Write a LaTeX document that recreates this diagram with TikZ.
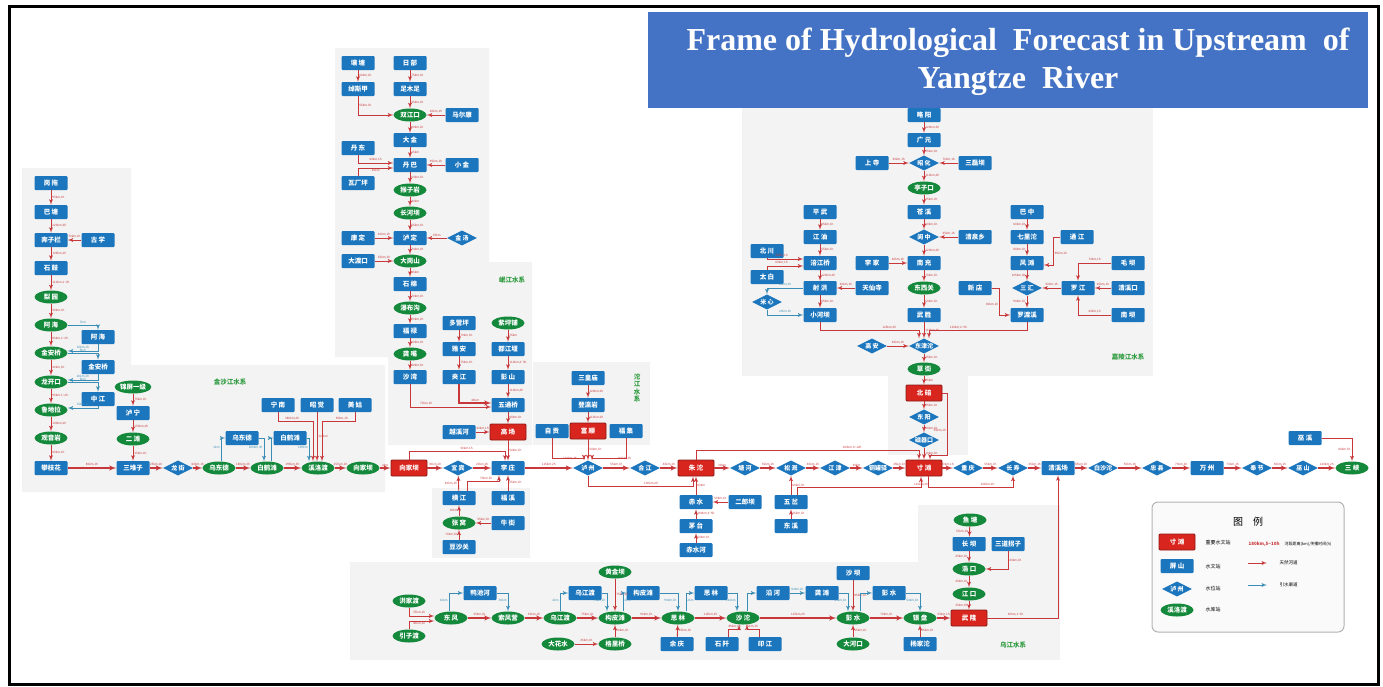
\documentclass[tikz,border=0pt]{standalone}
\usepackage{fontspec}
\usetikzlibrary{arrows,shapes.geometric}
\newfontfamily\cjk{Noto Sans CJK SC}
\newfontfamily\ttl{Liberation Serif}
\newcommand{\tld}{\textasciitilde}
\definecolor{stblue}{HTML}{1C76BD}
\definecolor{kred}{HTML}{D8261F}
\definecolor{resgreen}{HTML}{14893B}
\definecolor{rivr}{HTML}{C8373A}
\definecolor{divr}{HTML}{3A8DB5}
\definecolor{ttlblue}{HTML}{4472C4}
\definecolor{panel}{HTML}{F3F3F3}
\definecolor{grplbl}{HTML}{2E9B3E}

\begin{document}
\begin{tikzpicture}[x=1pt,y=-1pt]
	\tikzset{hsta/.style = {rectangle,fill=stblue,text=white,rounded corners=1pt,
			minimum width=33pt,minimum height=14pt,inner sep=0pt,
			font=\cjk\bfseries\fontsize{6.5}{7}\selectfont}}
	\tikzset{ksta/.style = {hsta,fill=kred,draw=kred!65!black,line width=0.8pt,
			minimum width=36pt,minimum height=16pt}}
	\tikzset{wsta/.style = {diamond,aspect=2,fill=stblue,text=white,
			minimum width=30pt,minimum height=15pt,inner sep=0pt,
			font=\cjk\bfseries\fontsize{6}{6.5}\selectfont}}
	\tikzset{res/.style = {ellipse,fill=resgreen,text=white,
			minimum width=33pt,minimum height=13pt,inner sep=0pt,
			font=\cjk\bfseries\fontsize{6.5}{7}\selectfont}}
	\tikzset{edge/.style = {->,> = latex',draw=rivr,line width=0.9pt}}
	\tikzset{main/.style = {edge,line width=1.4pt}}
	\tikzset{div/.style = {->,> = latex',draw=divr,line width=0.9pt}}
	\tikzset{lbl/.style = {font=\cjk\fontsize{3}{3}\selectfont,text=rivr,inner sep=1pt}}
	\tikzset{tlbl/.style = {lbl,text=divr}}
	\tikzset{grp/.style = {font=\cjk\bfseries\fontsize{6.5}{8}\selectfont,text=grplbl}}
	\useasboundingbox (0,0) rectangle (1383,686);
	% panels
	\fill[panel] (22,168) -- (131,168) -- (131,365) -- (385,365) -- (385,492) -- (22,492) -- cycle;
	\fill[panel] (335,48) -- (489,48) -- (489,262) -- (532,262) -- (532,445) -- (388,445) -- (388,357) -- (335,357) -- cycle;
	\fill[panel] (533,362) rectangle (650,445);
	\fill[panel] (432,488) rectangle (530,558);
	\fill[panel] (742,108) rectangle (1153,376);
	\fill[panel] (888,376) rectangle (968,455);
	\fill[panel] (350,562) rectangle (1060,660);
	\fill[panel] (918,505) rectangle (1060,562);
	\draw[line width=3pt] (9,6) rectangle (1378,684);
	% title
	\fill[ttlblue] (648,12) rectangle (1368,108);
	\node[text=white,align=center,font=\ttl\bfseries\fontsize{32}{38}\selectfont] (title) at (1018,62)
		{Frame of Hydrological\ \ Forecast in Upstream\ \ of\\Yangtze\ \ River};
	% group names
	\node[grp] (gjinsha) at (230,382) {金沙江水系};
	\node[grp] (gmin) at (512,280) {岷江水系};
	\node[grp,align=center,font=\cjk\bfseries\fontsize{6.5}{7.5}\selectfont] (gtuo) at (637,388) {沱\\江\\水\\系};
	\node[grp] (gjialing) at (1128,357) {嘉陵江水系};
	\node[grp] (gwu) at (1013,645) {乌江水系};

	% vertices -- Jinsha upper
	\node[hsta] (gangtuo) at (51,183) {岗 拖};
	\node[hsta] (batang) at (51,212) {巴 塘};
	\node[hsta] (benzilan) at (51,240) {奔子栏};
	\node[hsta] (guxue) at (98,240) {古 学};
	\node[hsta] (shigu) at (51,268) {石 鼓};
	\node[res] (liyuan) at (51,297) {梨 园};
	\node[res] (ahai) at (51,325) {阿 海};
	\node[hsta] (ahaiz) at (98,337) {阿 海};
	\node[res] (jinanqiao) at (51,353) {金安桥};
	\node[hsta] (jinanqiaoz) at (98,367) {金安桥};
	\node[res] (longkaikou) at (51,382) {龙开口};
	\node[hsta] (zhongjiang) at (98,399) {中 江};
	\node[res] (ludila) at (51,410) {鲁地拉};
	\node[res] (guanyinyan) at (51,438) {观音岩};
	\node[hsta] (panzhihua) at (51,468) {攀枝花};
	% Yalong
	\node[res] (jinping) at (133,387) {锦屏一级};
	\node[hsta] (luning) at (133,413) {泸 宁};
	\node[res] (ertan) at (133,439) {二 滩};
	\node[hsta] (sanduizi) at (133,468) {三堆子};
	% Jinsha lower
	\node[wsta] (longjie) at (178,468) {龙 街};
	\node[res] (wudongde) at (219,468) {乌东德};
	\node[hsta] (wudongdez) at (242,438) {乌东德};
	\node[res] (baihetan) at (267,468) {白鹤滩};
	\node[hsta] (baihetanz) at (290,438) {白鹤滩};
	\node[hsta] (ningnan) at (278,405) {宁 南};
	\node[hsta] (zhaojue) at (317,405) {昭 觉};
	\node[hsta] (meigu) at (355,405) {美 姑};
	\node[res] (xiluodu) at (318,468) {溪洛渡};
	\node[res] (xiangjiabar) at (363,468) {向家坝};
	\node[ksta] (xiangjiaba) at (409,468) {向家坝};
	% Dadu
	\node[hsta] (rangtang) at (358,63) {壤 塘};
	\node[hsta] (chuosijia) at (358,89) {绰斯甲};
	\node[hsta] (ribu) at (410,63) {日 部};
	\node[hsta] (zumuzu) at (410,89) {足木足};
	\node[res] (shuangjiangkou) at (410,115) {双江口};
	\node[hsta] (maerkang) at (462,115) {马尔康};
	\node[hsta] (dajin) at (410,140) {大 金};
	\node[hsta] (danba) at (410,165) {丹 巴};
	\node[hsta] (dandong) at (358,148) {丹 东};
	\node[hsta] (wachangping) at (358,183) {瓦厂坪};
	\node[hsta] (xiaojin) at (462,165) {小 金};
	\node[res] (houziyan) at (410,190) {猴子岩};
	\node[res] (changheba) at (410,213) {长河坝};
	\node[hsta] (luding) at (410,238) {泸 定};
	\node[hsta] (kangding) at (358,238) {康 定};
	\node[wsta] (jintang) at (462,238) {金 汤};
	\node[res] (dagangshan) at (410,261) {大岗山};
	\node[hsta] (dadukou) at (358,261) {大渡口};
	\node[hsta] (shimian) at (410,284) {石 棉};
	\node[res] (pubugou) at (410,308) {瀑布沟};
	\node[hsta] (fulu) at (410,331) {福 禄};
	\node[res] (gongzui) at (410,354) {龚 嘴};
	\node[hsta] (shawan) at (410,377) {沙 湾};
	% Min
	\node[hsta] (duoyingping) at (459,323) {多营坪};
	\node[hsta] (yaan) at (459,349) {雅 安};
	\node[hsta] (jiajiang) at (459,377) {夹 江};
	\node[res] (zipingpu) at (508,323) {紫坪铺};
	\node[hsta] (dujiangyan) at (508,349) {都江堰};
	\node[hsta] (pengshan) at (508,377) {彭 山};
	\node[hsta] (wutongqiao) at (508,405) {五通桥};
	\node[ksta] (gaochang) at (508,432) {高 场};
	\node[hsta] (yuexi) at (459,432) {越溪河};
	% Yibin
	\node[wsta] (yibin) at (458,468) {宜 宾};
	\node[hsta] (lizhuang) at (508,468) {李 庄};
	\node[hsta] (hengjiang) at (459,498) {横 江};
	\node[hsta] (fuxi) at (508,498) {福 溪};
	\node[res] (zhangwo) at (459,523) {张 窝};
	\node[hsta] (niujie) at (508,523) {牛 街};
	\node[hsta] (doushaguan) at (459,547) {豆沙关};
	% Tuo
	\node[hsta] (sanhuangmiao) at (588,378) {三皇庙};
	\node[hsta] (dengyingyan) at (588,405) {登瀛岩};
	\node[ksta] (fushun) at (588,431) {富 顺};
	\node[hsta] (zigong) at (552,431) {自 贡};
	\node[hsta] (fuji) at (626,431) {福 集};
	\node[wsta] (luzhou) at (588,468) {泸 州};
	\node[wsta] (hejiang) at (645,468) {合 江};
	\node[ksta] (zhutuo) at (696,468) {朱 沱};
	% Chishui, Qi
	\node[hsta] (chishui) at (696,502) {赤 水};
	\node[hsta] (maotai) at (696,526) {茅 台};
	\node[hsta] (chishuihe) at (696,550) {赤水河};
	\node[hsta] (erlangba) at (745,502) {二郎坝};
	\node[hsta] (wucha) at (791,502) {五 岔};
	\node[hsta] (dongxi) at (791,526) {东 溪};
	% Yangtze main
	\node[wsta] (tanghe) at (745,468) {塘 河};
	\node[wsta] (songgai) at (791,468) {松 溉};
	\node[wsta] (jiangjin) at (835,468) {江 津};
	\node[wsta] (tongguanyi) at (878,468) {铜罐驿};
	\node[ksta] (cuntan) at (924,468) {寸 滩};
	\node[wsta] (chongqing) at (968,468) {重 庆};
	\node[wsta] (changshou) at (1013,468) {长 寿};
	\node[hsta] (qingxichang) at (1058,468) {清溪场};
	\node[wsta] (baishatuo) at (1103,468) {白沙沱};
	\node[wsta] (zhongxian) at (1157,468) {忠 县};
	\node[hsta] (wanzhou) at (1207,468) {万 州};
	\node[wsta] (fengjie) at (1257,468) {奉 节};
	\node[wsta] (wushan) at (1303,468) {巫 山};
	\node[res] (sanxia) at (1352,468) {三 峡};
	\node[hsta] (wuxi) at (1305,438) {巫 溪};
	% Jialing
	\node[hsta] (lueyang) at (924,115) {略 阳};
	\node[hsta] (guangyuan) at (924,140) {广 元};
	\node[wsta] (zhaohua) at (924,163) {昭 化};
	\node[hsta] (shangsi) at (872,163) {上 寺};
	\node[hsta] (sanleiba) at (975,163) {三磊坝};
	\node[res] (tingzikou) at (924,188) {亭子口};
	\node[hsta] (cangxi) at (924,212) {苍 溪};
	\node[wsta] (langzhong) at (924,237) {阆 中};
	\node[hsta] (qingquan) at (975,237) {清泉乡};
	\node[hsta] (nanchong) at (924,263) {南 充};
	\node[hsta] (lijia) at (872,263) {李 家};
	\node[res] (dongxiguan) at (924,288) {东西关};
	\node[hsta] (wusheng) at (924,315) {武 胜};
	\node[wsta] (dongjintuo) at (924,346) {东津沱};
	\node[wsta] (gaoan) at (872,346) {高 安};
	\node[res] (caojie) at (924,369) {草 街};
	\node[ksta] (beibei) at (924,393) {北 碚};
	\node[wsta] (dongyang) at (924,417) {东 阳};
	\node[wsta] (ciqikou) at (924,440) {磁器口};
	% Fu
	\node[hsta] (pingwu) at (820,212) {平 武};
	\node[hsta] (jiangyou) at (820,237) {江 油};
	\node[hsta] (fujiangqiao) at (820,263) {涪江桥};
	\node[hsta] (shehong) at (820,288) {射 洪};
	\node[hsta] (xiaoheba) at (820,315) {小河坝};
	\node[hsta] (beichuan) at (767,251) {北 川};
	\node[hsta] (taibai) at (767,277) {太 白};
	\node[hsta] (tianxiansi) at (872,288) {天仙寺};
	\node[wsta] (mixin) at (767,302) {米 心};
	% Qu
	\node[hsta] (bazhong) at (1027,212) {巴 中};
	\node[hsta] (qilituo) at (1027,237) {七里沱};
	\node[hsta] (fengtan) at (1027,263) {风 滩};
	\node[wsta] (sanhui) at (1027,288) {三 汇};
	\node[hsta] (luoduxi) at (1027,315) {罗渡溪};
	\node[hsta] (tongjiang) at (1077,237) {通 江};
	\node[hsta] (xindian) at (975,288) {新 店};
	\node[hsta] (luojiang) at (1078,288) {罗 江};
	\node[hsta] (maoba) at (1128,263) {毛 坝};
	\node[hsta] (qingxikou) at (1128,288) {清溪口};
	\node[hsta] (nanba) at (1128,315) {南 坝};
	% Wu
	\node[res] (hongjiadu) at (409,601) {洪家渡};
	\node[res] (yinzidu) at (409,636) {引子渡};
	\node[res] (dongfeng) at (451,618) {东 风};
	\node[hsta] (yachihe) at (480,593) {鸭池河};
	\node[res] (suofengying) at (508,618) {索风营};
	\node[res] (wujiangdu) at (560,618) {乌江渡};
	\node[hsta] (wujiangduz) at (585,593) {乌江渡};
	\node[res] (goupitan) at (615,618) {构皮滩};
	\node[res] (huangjinba) at (615,572) {黄金坝};
	\node[hsta] (goupitanz) at (643,593) {构皮滩};
	\node[res] (dahuashui) at (558,644) {大花水};
	\node[res] (geliqiao) at (615,644) {格里桥};
	\node[res] (silin) at (678,618) {思 林};
	\node[hsta] (yuqing) at (677,644) {余 庆};
	\node[hsta] (silinz) at (711,593) {思 林};
	\node[res] (shatuo) at (743,618) {沙 沱};
	\node[hsta] (shiqian) at (722,644) {石 阡};
	\node[hsta] (yinjiang) at (765,644) {印 江};
	\node[hsta] (yanhe) at (773,593) {沿 河};
	\node[hsta] (gongtan) at (822,593) {龚 滩};
	\node[hsta] (shaba) at (853,573) {沙 坝};
	\node[res] (pengshui) at (853,618) {彭 水};
	\node[res] (dahekou) at (853,644) {大河口};
	\node[hsta] (pengshuiz) at (889,593) {彭 水};
	\node[res] (yinpan) at (920,618) {银 盘};
	\node[hsta] (yangjiatuo) at (920,644) {杨家沱};
	\node[ksta] (wulong) at (969,618) {武 隆};
	\node[res] (yutang) at (970,520) {鱼 塘};
	\node[hsta] (changba) at (969,544) {长 坝};
	\node[res] (haokou) at (969,569) {浩 口};
	\node[res] (jiangkou) at (969,594) {江 口};
	\node[hsta] (sandao) at (1008,544) {三道拐子};

	% edges -- Jinsha upper
	\draw[edge] (gangtuo) to node[lbl,right] {95km,1h} (batang);
	\draw[edge] (batang) to node[lbl,right] {220km,3h} (benzilan);
	\draw[edge] (guxue) to node[lbl,above] {70km,1h} (benzilan);
	\draw[edge] (benzilan) to node[lbl,right] {105km,1h} (shigu);
	\draw[edge] (shigu) to node[lbl,right] {110km,1\tld2h} (liyuan);
	\draw[edge] (liyuan) to node[lbl,right] {50km,1h} (ahai);
	\draw[edge] (ahai) to node[lbl,right] {80km,1\tld2h} (jinanqiao);
	\draw[edge] (jinanqiao) to node[lbl,right] {40km,1h} (longkaikou);
	\draw[edge] (longkaikou) to node[lbl,right] {95km,1\tld2h} (ludila);
	\draw[edge] (ludila) to node[lbl,right] {100km,2h} (guanyinyan);
	\draw[edge] (guanyinyan) to node[lbl,right] {60km,1h} (panzhihua);
	\draw[div] (ahai.east) -| node[tlbl,pos=0.25,above] {7km} (ahaiz.north);
	\draw[div] (ahaiz.south) |- node[tlbl,pos=0.75,above] {15km,1h} ([yshift=2pt]jinanqiao.east);
	\draw[div] (jinanqiao.east) -| node[tlbl,pos=0.25,above] {5km} (jinanqiaoz.north);
	\draw[div] (jinanqiaoz.south) |- node[tlbl,pos=0.75,above] {20km,1h} ([yshift=2pt]longkaikou.east);
	\draw[div] (longkaikou.east) -| node[tlbl,pos=0.25,above] {6km} (zhongjiang.north);
	\draw[div] (zhongjiang.south) |- node[tlbl,pos=0.75,above] {15km,1h} ([yshift=2pt]ludila.east);
	% Yalong
	\draw[edge] (jinping) to node[lbl,right] {75km,1h} (luning);
	\draw[edge] (luning) to node[lbl,right] {150km,2h} (ertan);
	\draw[edge] (ertan) to node[lbl,right] {35km,1h} (sanduizi);
	% Jinsha lower
	\draw[main] (panzhihua) to node[lbl,above] {80km,1h} (sanduizi);
	\draw[main] (sanduizi) to node[lbl,above] {25km,1h} (longjie);
	\draw[main] (longjie) to node[lbl,above] {60km,1h} (wudongde);
	\draw[main] (wudongde) to node[lbl,above] {180km,3h} (baihetan);
	\draw[main] (baihetan) to node[lbl,above] {195km,3h} (xiluodu);
	\draw[main] (xiluodu) to node[lbl,above] {157km,2h} (xiangjiabar);
	\draw[main] (xiangjiabar) to node[lbl,above] {2km} (xiangjiaba);
	\draw[div] ([xshift=2pt]wudongde.north) |- node[tlbl,pos=0.3,left] {3km} (wudongdez.west);
	\draw[div] (wudongdez.east) -| node[tlbl,pos=0.7,left] {180km,3h} ([xshift=-3pt]baihetan.north);
	\draw[div] ([xshift=4pt]baihetan.north) |- (baihetanz.west);
	\draw[div] (baihetanz.east) -| node[tlbl,pos=0.7,left] {190km} ([xshift=-9pt]xiluodu.north);
	\draw[edge] (ningnan.south) -- ++(0,9) -| node[lbl,pos=0.2,above] {380km,4h} ([xshift=-5pt]xiluodu.north);
	\draw[edge] (zhaojue.south) -- node[lbl,right] {120km} (zhaojue.south |- xiluodu.north);
	\draw[edge] (meigu.south) -- ++(0,9) -| node[lbl,pos=0.2,above] {90km,1h} ([xshift=4pt]xiluodu.north);
	% Dadu
	\draw[edge] (rangtang) to node[lbl,right] {60km,1h} (chuosijia);
	\draw[edge] (ribu) to node[lbl,right] {75km,1h} (zumuzu);
	\draw[edge] (chuosijia.south) |- node[lbl,pos=0.25,right] {55km,1h} (shuangjiangkou.west);
	\draw[edge] (zumuzu) to node[lbl,right] {45km,1h} (shuangjiangkou);
	\draw[edge] (maerkang) to node[lbl,above] {40km,1h} (shuangjiangkou);
	\draw[edge] (shuangjiangkou) to node[lbl,right] {90km,1h} (dajin);
	\draw[edge] (dajin) to node[lbl,right] {15km} (danba);
	\draw[edge] (dandong.south) |- node[lbl,pos=0.75,above] {60km,1h} ([yshift=2pt]danba.west);
	\draw[edge] (wachangping.north) |- node[lbl,pos=0.75,below] {45km} ([yshift=-3pt]danba.west);
	\draw[edge] (xiaojin) to node[lbl,above] {95km,1h} (danba);
	\draw[edge] (danba) to node[lbl,right] {60km,1h} (houziyan);
	\draw[edge] (houziyan) to node[lbl,right] {40km} (changheba);
	\draw[edge] (changheba) to node[lbl,right] {55km,1h} (luding);
	\draw[edge] (kangding) to node[lbl,above] {40km,1h} (luding);
	\draw[edge] (jintang) to node[lbl,above] {35km} (luding);
	\draw[edge] (luding) to node[lbl,right] {70km,1h} (dagangshan);
	\draw[edge] (dadukou) to node[lbl,above] {25km,1h} (dagangshan);
	\draw[edge] (dagangshan) to node[lbl,right] {45km} (shimian);
	\draw[edge] (shimian) to node[lbl,right] {70km,1h} (pubugou);
	\draw[edge] (pubugou) to node[lbl,right] {70km,1h} (fulu);
	\draw[edge] (fulu) to node[lbl,right] {90km,1h} (gongzui);
	\draw[edge] (gongzui) to node[lbl,right] {30km,1h} (shawan);
	% Min
	\draw[edge] (duoyingping) to node[lbl,right] {70km,1h} (yaan);
	\draw[edge] (yaan) to node[lbl,right] {75km,1h} (jiajiang);
	\draw[edge] (zipingpu) to node[lbl,right] {25km} (dujiangyan);
	\draw[edge] (dujiangyan) to node[lbl,right] {110km,2\tld3h} (pengshan);
	\draw[edge] (pengshan) to node[lbl,right] {110km,2h} (wutongqiao);
	\draw[main] (jiajiang.south) |- node[lbl,pos=0.75,above] {40km} ([yshift=2pt]wutongqiao.west);
	\draw[edge] (shawan.south) |- node[lbl,pos=0.6,above] {70km,1h} ([yshift=-2pt]wutongqiao.west);
	\draw[edge] (wutongqiao) to node[lbl,right] {80km,1h} (gaochang);
	\draw[edge] (yuexi) to node[lbl,above] {60km,1h} (gaochang);
	\draw[edge] (gaochang) to node[lbl,right] {50km,1h} (lizhuang);
	% Yibin
	\draw[main] (xiangjiaba) to node[lbl,above] {30km,1h} (yibin);
	\draw[main] (yibin) to node[lbl,above] {20km,1h} (lizhuang);
	\draw[edge] (xiangjiaba.north) -- ++(0,-8) -| node[lbl,pos=0.3,above] {50km,1h} ([xshift=-3pt]lizhuang.north);
	\draw[edge] (hengjiang) to node[lbl,left] {40km,1h} (yibin);
	\draw[edge] ([xshift=8pt]hengjiang.north) -- ++(0,-9) -| node[lbl,pos=0.3,above] {70km,1h} ([xshift=-9pt]lizhuang.south);
	\draw[edge] (fuxi) to node[lbl,right] {25km,1h} (lizhuang);
	\draw[edge] (niujie) to node[lbl,above] {55km,1h} (zhangwo);
	\draw[edge] (doushaguan) to node[lbl,left] {70km,1h} (zhangwo);
	\draw[edge] (zhangwo) to node[lbl,left] {30km} (hengjiang);
	% Tuo
	\draw[edge] (sanhuangmiao) to node[lbl,right] {120km,2h} (dengyingyan);
	\draw[edge] (dengyingyan) to node[lbl,right] {110km,2h} (fushun);
	\draw[edge] (fushun) to node[lbl,right] {50km,1h} (luzhou);
	\draw[edge] (zigong.south) -- ++(0,20) -| node[lbl,pos=0.15,right] {120km,2h} ([xshift=-4pt]luzhou.north);
	\draw[edge] (fuji.south) -- ++(0,20) -| node[lbl,pos=0.15,right] {110km,2h} ([xshift=4pt]luzhou.north);
	\draw[main] (lizhuang) to node[lbl,above] {115km,2h} (luzhou);
	\draw[main] (luzhou) to node[lbl,above] {55km,1h} (hejiang);
	\draw[main] (hejiang) to node[lbl,above] {45km,1h} (zhutuo);
	\draw[edge] (luzhou.south) -- ++(0,11) -| node[lbl,pos=0.3,above] {100km,2h} ([xshift=-3pt]zhutuo.south);
	% Chishui, Qi
	\draw[edge] (chishuihe) to node[lbl,right] {60km,1h} (maotai);
	\draw[edge] (maotai) to node[lbl,right] {190km,3\tld5h} (chishui);
	\draw[edge] (erlangba) to node[lbl,above] {50km,1h} (chishui);
	\draw[edge] (chishui) to node[lbl,right] {60km} (zhutuo);
	\draw[edge] (dongxi) to node[lbl,right] {35km,1h} (wucha);
	\draw[edge] (wucha) to node[lbl,right] {60km,1h} (songgai);
	\draw[edge] ([xshift=6pt]wucha.north) -- ++(0,-7) -| node[lbl,pos=0.5,above] {110km,2h} ([xshift=-3pt]cuntan.south);
	% Yangtze main
	\draw[main] (zhutuo) to node[lbl,above] {30km} (tanghe);
	\draw[main] (tanghe) to node[lbl,above] {35km,1h} (songgai);
	\draw[main] (songgai) to node[lbl,above] {40km,1h} (jiangjin);
	\draw[main] (jiangjin) to node[lbl,above] {30km} (tongguanyi);
	\draw[main] (tongguanyi) to node[lbl,above] {45km,1h} (cuntan);
	\draw[edge] (zhutuo.north) -- ++(0,-9) -| node[lbl,pos=0.35,above] {160km,6\tld12h} ([xshift=-5pt]cuntan.north);
	\draw[main] (cuntan) to node[lbl,above] {20km,1h} (chongqing);
	\draw[main] (chongqing) to node[lbl,above] {55km,1h} (changshou);
	\draw[main] (changshou) to node[lbl,above] {45km,1h} (qingxichang);
	\draw[edge] ([xshift=4pt]cuntan.south) -- ++(0,11) -| node[lbl,pos=0.35,above] {100km,2h} (changshou.south);
	\draw[main] (qingxichang) to node[lbl,above] {85km,1h} (baishatuo);
	\draw[main] (baishatuo) to node[lbl,above] {50km,1h} (zhongxian);
	\draw[main] (zhongxian) to node[lbl,above] {70km,1h} (wanzhou);
	\draw[main] (wanzhou) to node[lbl,above] {70km,1h} (fengjie);
	\draw[main] (fengjie) to node[lbl,above] {50km,1h} (wushan);
	\draw[main] (wushan) to node[lbl,above] {120km,2h} (sanxia);
	\draw[edge] (wuxi.east) -| node[lbl,pos=0.75,left] {80km,1h} (sanxia.north);
	% Jialing
	\draw[edge] (lueyang) to node[lbl,right] {120km,2h} (guangyuan);
	\draw[edge] (guangyuan) to node[lbl,right] {35km,1h} (zhaohua);
	\draw[edge] (shangsi) to node[lbl,above] {50km,1h} (zhaohua);
	\draw[edge] (sanleiba) to node[lbl,above] {70km,1h} (zhaohua);
	\draw[edge] (zhaohua) to node[lbl,right] {110km,2h} (tingzikou);
	\draw[edge] (tingzikou) to node[lbl,right] {25km,1h} (cangxi);
	\draw[edge] (cangxi) to node[lbl,right] {60km,1h} (langzhong);
	\draw[edge] (qingquan) to node[lbl,above] {45km,1h} (langzhong);
	\draw[edge] (langzhong) to node[lbl,right] {120km,2h} (nanchong);
	\draw[edge] (lijia) to node[lbl,above] {60km,1h} (nanchong);
	\draw[edge] (nanchong) to node[lbl,right] {70km,1h} (dongxiguan);
	\draw[edge] (dongxiguan) to node[lbl,right] {60km,1h} (wusheng);
	\draw[edge] (wusheng) to node[lbl,right] {110km,3h} (dongjintuo);
	\draw[edge] (gaoan) to node[lbl,above] {65km,1h} (dongjintuo);
	\draw[edge] (dongjintuo) to node[lbl,right] {25km,1h} (caojie);
	\draw[edge] (caojie) to node[lbl,right] {25km} (beibei);
	\draw[edge] (beibei) to node[lbl,right] {25km,1h} (dongyang);
	\draw[edge] (dongyang) to node[lbl,right] {30km,1h} (ciqikou);
	\draw[edge] (ciqikou) to node[lbl,right] {20km,1h} (cuntan);
	\draw[edge] (beibei.east) -- ++(5,0) |- node[lbl,pos=0.3,left] {55km,1h} ([xshift=6pt,yshift=4pt]cuntan.north) -- ([xshift=6pt]cuntan.north);
	% Fu
	\draw[edge] (pingwu) to node[lbl,right] {85km,1h} (jiangyou);
	\draw[edge] (jiangyou) to node[lbl,right] {55km,1h} (fujiangqiao);
	\draw[edge] (beichuan.south) |- node[lbl,pos=0.7,above] {45km,1h} ([yshift=4pt]fujiangqiao.west);
	\draw[edge] (taibai.north) |- node[lbl,pos=0.7,above] {60km,1h} ([yshift=-3pt]fujiangqiao.west);
	\draw[edge] (fujiangqiao) to node[lbl,right] {120km,2h} (shehong);
	\draw[edge] (tianxiansi) to node[lbl,above] {40km,1h} (shehong);
	\draw[edge] (shehong) to node[lbl,right] {85km,1h} (xiaoheba);
	\draw[div] (shehong.west) -| node[tlbl,pos=0.25,above] {15km,1h} (mixin.north);
	\draw[div] (mixin.south) |- node[tlbl,pos=0.75,above] {20km,1h} (xiaoheba.west);
	\draw[edge] (xiaoheba.south) -- ++(0,8) -| node[lbl,pos=0.35,above] {125km,2h} ([xshift=-5pt]dongjintuo.north);
	% Qu
	\draw[edge] (bazhong) to node[lbl,left] {60km,1h} (qilituo);
	\draw[edge] (qilituo) to node[lbl,left] {80km,1h} (fengtan);
	\draw[edge] (tongjiang.west) -- ++(-7,0) |- node[lbl,pos=0.3,right] {95km,1h} ([yshift=-2pt]fengtan.east);
	\draw[edge] (fengtan) to node[lbl,left] {105km,2h} (sanhui);
	\draw[edge] (luojiang) to node[lbl,above] {50km,1h} (sanhui);
	\draw[edge] (maoba.west) -| node[lbl,pos=0.25,above] {70km,1h} (luojiang.north);
	\draw[edge] (qingxikou) to node[lbl,above] {45km,1h} (luojiang);
	\draw[edge] (nanba.west) -| node[lbl,pos=0.25,above] {60km,1h} (luojiang.south);
	\draw[edge] (sanhui) to node[lbl,left] {90km,1h} (luoduxi);
	\draw[edge] (xindian.east) -- ++(8,0) |- node[lbl,pos=0.3,left] {80km,1h} (luoduxi.west);
	\draw[edge] (luoduxi.south) -- ++(0,8) -| node[lbl,pos=0.35,above] {110km,2\tld3h} ([xshift=5pt]dongjintuo.north);
	% Wu
	\draw[edge] (hongjiadu.south) |- node[lbl,pos=0.7,above] {75km,1h} ([yshift=2pt]dongfeng.west);
	\draw[edge] (yinzidu.north) |- node[lbl,pos=0.7,below] {40km,1h} ([yshift=-3pt]dongfeng.west);
	\draw[main] (dongfeng) to node[lbl,above] {35km,1h} (suofengying);
	\draw[main] (suofengying) to node[lbl,above] {35km,1h} (wujiangdu);
	\draw[main] (wujiangdu) to node[lbl,above] {75km,1h} (goupitan);
	\draw[main] (goupitan) to node[lbl,above] {90km,1h} (silin);
	\draw[main] (silin) to node[lbl,above] {115km,2h} (shatuo);
	\draw[main] (shatuo) to node[lbl,above] {115km,2h} (pengshui);
	\draw[main] (pengshui) to node[lbl,above] {70km,1h} (yinpan);
	\draw[main] (yinpan) to node[lbl,above] {55km,1h} (wulong);
	\draw[div] ([xshift=-2pt]dongfeng.north) |- node[tlbl,pos=0.3,left] {10km} (yachihe.west);
	\draw[div] (yachihe.east) -| node[tlbl,pos=0.7,left] {30km} (suofengying.north);
	\draw[div] (wujiangdu.north) |- node[tlbl,pos=0.3,left] {2km} (wujiangduz.west);
	\draw[div] (wujiangduz.east) -| node[tlbl,pos=0.7,left] {75km,1h} ([xshift=-8pt]goupitan.north);
	\draw[edge] (huangjinba) to node[lbl,right] {75km,1h} (goupitan);
	\draw[div] ([xshift=8pt]goupitan.north) |- node[tlbl,pos=0.3,right] {2km} (goupitanz.west);
	\draw[div] (goupitanz.east) -| node[tlbl,pos=0.7,left] {90km,1h} (silin.north);
	\draw[div] ([xshift=8pt]silin.north) |- node[tlbl,pos=0.3,right] {2km} (silinz.west);
	\draw[div] (silinz.east) -| node[tlbl,pos=0.7,left] {110km} ([xshift=-6pt]shatuo.north);
	\draw[div] ([xshift=4pt]shatuo.north) |- (yanhe.west);
	\draw[div] (yanhe) to node[tlbl,above] {60km,1h} (gongtan);
	\draw[div] (gongtan.east) -| node[tlbl,pos=0.7,left] {65km,1h} ([xshift=-5pt]pengshui.north);
	\draw[edge] (shaba) to node[lbl,right] {85km,1h} (pengshui);
	\draw[div] ([xshift=7pt]pengshui.north) |- (pengshuiz.west);
	\draw[div] (pengshuiz.east) -| node[tlbl,pos=0.7,left] {50km,1h} (yinpan.north);
	\draw[edge] (dahuashui) to node[lbl,above] {45km,1h} (geliqiao);
	\draw[edge] (geliqiao) to node[lbl,right] {60km,1h} (goupitan);
	\draw[edge] (yuqing) to node[lbl,right] {35km,1h} (silin);
	\draw[edge] ([xshift=6pt]shiqian.north) -- ++(0,-7) -| node[lbl,pos=0.3,above] {80km,1h} ([xshift=-4pt]shatuo.south);
	\draw[edge] ([xshift=-6pt]yinjiang.north) -- ++(0,-7) -| node[lbl,pos=0.3,above] {55km,1h} ([xshift=4pt]shatuo.south);
	\draw[edge] (dahekou) to node[lbl,right] {55km,1h} (pengshui);
	\draw[edge] (yangjiatuo) to node[lbl,right] {35km,1h} (yinpan);
	\draw[edge] (yutang) to node[lbl,left] {70km,1h} (changba);
	\draw[edge] (changba) to node[lbl,left] {25km,1h} (haokou);
	\draw[edge] (sandao.south) |- node[lbl,pos=0.25,right] {40km,1h} (haokou.east);
	\draw[edge] (haokou) to node[lbl,left] {45km,1h} (jiangkou);
	\draw[edge] (jiangkou) to node[lbl,left] {35km,1h} (wulong);
	\draw[edge] (wulong.east) -| node[lbl,pos=0.2,above] {40km,1\tld2h} (qingxichang.south);

	% legend
	\draw[gray!60,fill=gray!4,rounded corners=6pt,line width=1pt] (1152,502) rectangle (1344,632);
	\node[font=\cjk\fontsize{10}{12}\selectfont] (lgtitle) at (1248,522) {图\quad 例};
	\node[ksta] (lgk) at (1177,542) {寸 滩};
	\node[hsta] (lgh) at (1177,566) {屏 山};
	\node[wsta] (lgw) at (1177,589) {泸 州};
	\node[res] (lgr) at (1177,610) {溪洛渡};
	\node[anchor=west,font=\cjk\fontsize{5}{6}\selectfont] (lgkt) at (1202,543) {重要水文站};
	\node[anchor=west,font=\cjk\fontsize{5}{6}\selectfont] (lght) at (1202,567) {水文站};
	\node[anchor=west,font=\cjk\fontsize{5}{6}\selectfont] (lgwt) at (1202,589) {水位站};
	\node[anchor=west,font=\cjk\fontsize{5}{6}\selectfont] (lgrt) at (1202,610) {水库站};
	\node[anchor=west,font=\cjk\bfseries\fontsize{4.5}{5}\selectfont,text=rivr] (lgd) at (1245,544) {180km,5\tld10h};
	\node[anchor=west,font=\cjk\fontsize{4}{5}\selectfont] (lgdt) at (1281,544) {河段距离(km),传播时间(h)};
	\coordinate (lga1) at (1248,563);
	\coordinate (lga2) at (1267,563);
	\coordinate (lgb1) at (1248,585);
	\coordinate (lgb2) at (1267,585);
	\draw[edge] (lga1) -- (lga2);
	\draw[div] (lgb1) -- (lgb2);
	\node[anchor=west,font=\cjk\fontsize{4.5}{5}\selectfont] (lgat) at (1276,563) {天然河道};
	\node[anchor=west,font=\cjk\fontsize{4.5}{5}\selectfont] (lgbt) at (1276,585) {引水渠道};
\end{tikzpicture}
\end{document}
